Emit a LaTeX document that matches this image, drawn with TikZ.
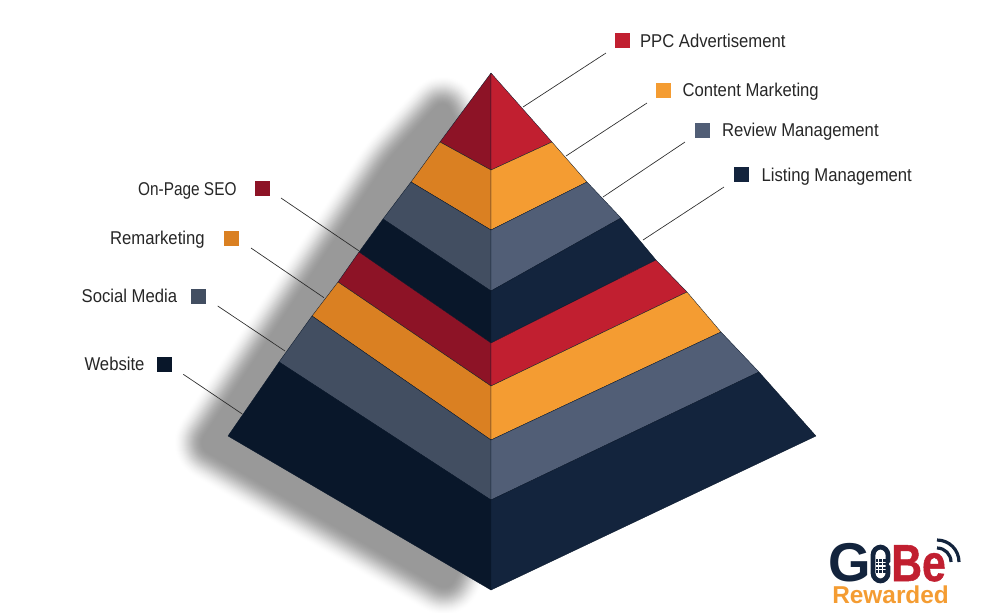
\documentclass[tikz,border=0pt]{standalone}
\usepackage{fontspec}
\usepackage{xcolor}
\usetikzlibrary{positioning}
\setmainfont{Liberation Sans}
\newfontfamily\legendfont[FakeStretch=0.9]{Liberation Sans}
\newfontfamily\legendnarrow[FakeStretch=0.83]{Liberation Sans}
\newfontfamily\logofont[FakeStretch=0.82,FakeBold=1]{Liberation Sans}
\definecolor{RedLight}{HTML}{C11F30}
\definecolor{RedDark}{HTML}{8D1326}
\definecolor{OrangeLight}{HTML}{F49C32}
\definecolor{OrangeDark}{HTML}{DA8022}
\definecolor{SlateLight}{HTML}{515E76}
\definecolor{SlateDark}{HTML}{424E61}
\definecolor{NavyLight}{HTML}{13243D}
\definecolor{NavyDark}{HTML}{09172A}
\definecolor{LeaderGrey}{HTML}{2B2B2B}
\definecolor{ShadowGrey}{HTML}{999999}
\begin{document}
\begin{tikzpicture}[x=0.75pt, y=-0.75pt,
  swatch/.style={minimum size=11.25pt, inner sep=0pt, outer sep=0pt},
  legend/.style={inner sep=0pt, outer sep=0pt, text=black!85, text height=13.2pt, text depth=3pt,
                 font=\legendfont\fontsize{13.9}{16}\selectfont},
  leader/.style={draw=LeaderGrey, line width=0.5pt},
  band/.style={draw=NavyDark, line width=0.25pt, line join=round}
]
  \useasboundingbox (0,0) rectangle (1008,612);

  % soft shadow behind the left face
  \foreach \d in {30,29,...,0} {
    \pgfmathsetmacro{\fade}{100*(1-3*(\d/30)^2+2*(\d/30)^3)}
    \draw[draw=ShadowGrey!\fade!white, fill=ShadowGrey, line join=round, rounded corners=8pt, line width=\d*1.5pt]
      (444,100) -- (389,161) -- (199,446) -- (448,590) -- (491,500) -- (491,200) -- cycle;
  }

  % left face
  \fill[RedDark, band] (491,73) -- (440,142) -- (491,170) -- cycle;
  \fill[OrangeDark, band] (440,142) -- (411,182) -- (491,230) -- (491,170) -- cycle;
  \fill[SlateDark, band] (411,182) -- (383,219) -- (491,291) -- (491,230) -- cycle;
  \fill[NavyDark, band] (383,219) -- (359,252) -- (491,343) -- (491,291) -- cycle;
  \fill[RedDark, band] (359,252) -- (338,282) -- (491,386) -- (491,343) -- cycle;
  \fill[OrangeDark, band] (338,282) -- (312,316) -- (491,440) -- (491,386) -- cycle;
  \fill[SlateDark, band] (312,316) -- (279,362) -- (491,500) -- (491,440) -- cycle;
  \fill[NavyDark, band] (279,362) -- (228,436) -- (491,590) -- (491,500) -- cycle;

  % right face
  \fill[RedLight, band] (491,73) -- (552,142) -- (491,170) -- cycle;
  \fill[OrangeLight, band] (552,142) -- (587,182) -- (491,230) -- (491,170) -- cycle;
  \fill[SlateLight, band] (587,182) -- (621,218) -- (491,291) -- (491,230) -- cycle;
  \fill[NavyLight, band] (621,218) -- (656,260) -- (491,343) -- (491,291) -- cycle;
  \fill[RedLight, band] (656,260) -- (687,292) -- (491,386) -- (491,343) -- cycle;
  \fill[OrangeLight, band] (687,292) -- (721,332) -- (491,440) -- (491,386) -- cycle;
  \fill[SlateLight, band] (721,332) -- (759,372) -- (491,500) -- (491,440) -- cycle;
  \fill[NavyLight, band] (759,372) -- (816,436) -- (491,590) -- (491,500) -- cycle;

  % legend, right side
  \node[swatch, fill=RedLight] (ppc) at (622.5,40.5) {};
  \node[legend, right=7.5pt of ppc] (ppcText) {PPC Advertisement};
  \node[swatch, fill=OrangeLight] (content) at (663,90) {};
  \node[legend, right=9pt of content] (contentText) {Content Marketing};
  \node[swatch, fill=SlateLight] (review) at (702.5,130) {};
  \node[legend, right=9pt of review] (reviewText) {Review Management};
  \node[swatch, fill=NavyLight] (listing) at (741.5,174.5) {};
  \node[legend, right=9.5pt of listing] (listingText) {Listing Management};

  % legend, left side
  \node[swatch, fill=RedDark] (onpage) at (262,188.5) {};
  \node[legend, font=\legendnarrow\fontsize{13.9}{16}\selectfont, left=13.5pt of onpage] (onpageText) {On-Page SEO};
  \node[swatch, fill=OrangeDark] (remark) at (231.5,238) {};
  \node[legend, left=14.5pt of remark] (remarkText) {Remarketing};
  \node[swatch, fill=SlateDark] (social) at (198,296) {};
  \node[legend, left=10pt of social] (socialText) {Social Media};
  \node[swatch, fill=NavyDark] (website) at (164,364) {};
  \node[legend, left=9pt of website] (websiteText) {Website};

  % leader lines
  \coordinate (ppcFrom) at (606,53);
  \coordinate (ppcTo) at (523,107);
  \coordinate (contentFrom) at (647,103);
  \coordinate (contentTo) at (566,156);
  \coordinate (reviewFrom) at (685,142);
  \coordinate (reviewTo) at (603,197);
  \coordinate (listingFrom) at (724,187);
  \coordinate (listingTo) at (643,240);
  \coordinate (onpageFrom) at (281,198);
  \coordinate (onpageTo) at (358.7,250.7);
  \coordinate (remarkFrom) at (251,248);
  \coordinate (remarkTo) at (324,297.7);
  \coordinate (socialFrom) at (217.7,306);
  \coordinate (socialTo) at (285,351);
  \coordinate (websiteFrom) at (183.3,374.3);
  \coordinate (websiteTo) at (242.3,414);
  \draw[leader] (ppcFrom) -- (ppcTo);
  \draw[leader] (contentFrom) -- (contentTo);
  \draw[leader] (reviewFrom) -- (reviewTo);
  \draw[leader] (listingFrom) -- (listingTo);
  \draw[leader] (onpageFrom) -- (onpageTo);
  \draw[leader] (remarkFrom) -- (remarkTo);
  \draw[leader] (socialFrom) -- (socialTo);
  \draw[leader] (websiteFrom) -- (websiteTo);

  % logo
  \node[inner sep=0pt, anchor=base west, text=NavyLight, font=\bfseries\fontsize{41}{41}\selectfont] (logoG) at (828,581.5) {G};
  \draw[NavyLight, line width=3.6pt, rounded corners=6pt] (873,547) rectangle (888,581);
  \foreach \i in {0,1,2}
    \foreach \j in {0,1,2,3}
      \fill[NavyLight] (875.6+\i*3.8,559+\j*3.8) rectangle ++(2.6,2.6);
  \node[inner sep=0pt, anchor=base west, text=RedLight, font=\logofont\bfseries\fontsize{39}{39}\selectfont] (logoBe) at (891,581) {Be};
  \fill[white] (891,564) circle (2);
  \node[inner sep=0pt, anchor=base west, text=OrangeLight, font=\bfseries\fontsize{18.3}{18.3}\selectfont] (logoReward) at (832,603) {Rewarded};
  \draw[NavyLight, line width=2.4pt] (937,548) arc[start angle=-90, end angle=0, radius=14];
  \draw[NavyLight, line width=2.4pt] (937,540) arc[start angle=-90, end angle=0, radius=22];
\end{tikzpicture}
\end{document}
